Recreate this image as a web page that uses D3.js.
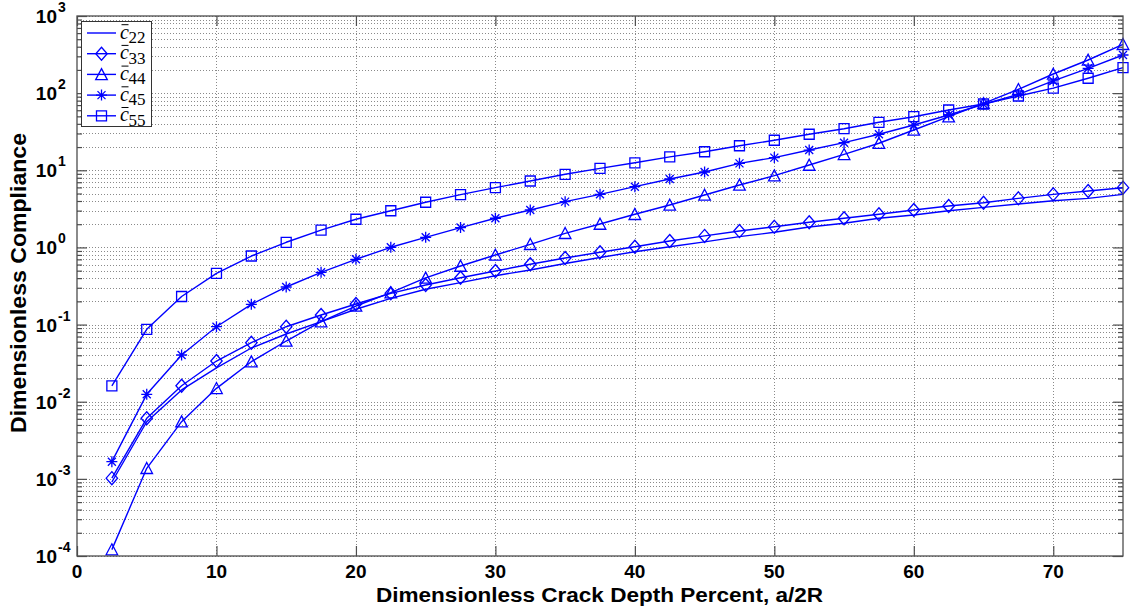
<!DOCTYPE html>
<html>
<head>
<meta charset="utf-8">
<script src="https://cdn.jsdelivr.net/npm/d3@7"></script>
<style>
  html, body { margin: 0; padding: 0; background: #fff; }
  svg { display: block; }
</style>
</head>
<body>
<svg id="chart" width="1130" height="609"></svg>
<script>
// Crack depth (percent of diameter) at which compliances were computed
const crackDepth = [2.5, 5, 7.5, 10, 12.5, 15, 17.5, 20, 22.5, 25, 27.5, 30, 32.5, 35, 37.5,
                    40, 42.5, 45, 47.5, 50, 52.5, 55, 57.5, 60, 62.5, 65, 67.5, 70, 72.5, 75];

// Dimensionless compliance terms
const c22 = [0.00091, 0.0055, 0.0142, 0.0274, 0.0497, 0.0755, 0.109, 0.158, 0.219, 0.287,
             0.35, 0.43, 0.51, 0.62, 0.74, 0.88, 1.02, 1.18, 1.38, 1.57,
             1.84, 2.06, 2.39, 2.63, 2.99, 3.31, 3.66, 4.03, 4.33, 4.88];
const c33 = [0.00102, 0.0061, 0.0161, 0.0337, 0.0582, 0.0938, 0.133, 0.185, 0.254, 0.326,
             0.405, 0.495, 0.605, 0.73, 0.865, 1.02, 1.21, 1.41, 1.63, 1.85,
             2.12, 2.39, 2.69, 3.06, 3.44, 3.80, 4.33, 4.88, 5.39, 5.95];
const c44 = [0.000121, 0.00137, 0.00551, 0.0149, 0.033, 0.0612, 0.109, 0.174, 0.259, 0.402,
             0.574, 0.798, 1.098, 1.524, 2.01, 2.69, 3.55, 4.78, 6.45, 8.51,
             11.7, 16.1, 22.4, 33.3, 49.5, 73.8, 112, 177, 269, 430];
const c45 = [0.00167, 0.01247, 0.0403, 0.0938, 0.183, 0.307, 0.476, 0.702, 1.004, 1.353,
             1.81, 2.39, 3.06, 3.92, 4.88, 6.13, 7.71, 9.5, 12.3, 14.6,
             18.3, 22.8, 29.3, 38.6, 52.1, 71.7, 96.6, 144, 210, 312];
const c55 = [0.016, 0.0869, 0.231, 0.462, 0.774, 1.166, 1.68, 2.32, 2.99, 3.85,
             4.84, 5.95, 7.26, 8.87, 10.6, 12.5, 14.9, 17.4, 20.8, 24.5,
             29.3, 34.6, 41.9, 49.5, 60.5, 72.3, 91.8, 116, 156, 214];

const seriesNames = ["22", "33", "44", "45", "55"];
const seriesMarkers = ["none", "diamond", "triangle", "star", "square"];
const seriesValues = [c22, c33, c44, c45, c55];

// Axis ticks
const xTicks = [0, 10, 20, 30, 40, 50, 60, 70];
const yExponents = [-4, -3, -2, -1, 0, 1, 2, 3];

const xLabel = "Dimensionless Crack Depth Percent, a/2R";
const yLabel = "Dimensionless Compliance";

const BLUE = "#0000ff";
const svg = d3.select("#chart");
const plotLeft = 77, plotRight = 1123, plotTop = 16, plotBottom = 556;

const x = d3.scaleLinear().domain([0, 75]).range([plotLeft, plotRight]);
const y = d3.scaleLog().domain([1e-4, 1e3]).range([plotBottom, plotTop]);

const majorY = yExponents.map(e => Math.pow(10, e));
const minorY = [];
yExponents.slice(0, -1).forEach(e => {
  for (let m = 2; m <= 9; m++) minorY.push(m * Math.pow(10, e));
});

// Dotted grid
const grid = svg.append("g").attr("stroke", "#8a8a8a").attr("stroke-width", 1)
  .attr("stroke-dasharray", "1,2").attr("fill", "none");
majorY.concat(minorY).forEach(v => {
  const yy = Math.round(y(v)) + 0.5;
  grid.append("line").attr("x1", plotLeft).attr("x2", plotRight).attr("y1", yy).attr("y2", yy);
});
xTicks.slice(1).forEach(v => {
  const xx = Math.round(x(v)) + 0.5;
  grid.append("line").attr("x1", xx).attr("x2", xx).attr("y1", plotTop).attr("y2", plotBottom);
});

// Axis ticks (pointing inward) on all four sides
const axisColor = "#4d4d4d";
function tickAxes(axisGen, transform) {
  const g = svg.append("g").attr("transform", transform).call(axisGen);
  g.select(".domain").remove();
  g.selectAll("line").attr("stroke", axisColor).attr("stroke-width", 1.2);
  g.selectAll("text").remove();
}
tickAxes(d3.axisLeft(y).tickValues(majorY).tickSize(-10), `translate(${plotLeft},0)`);
tickAxes(d3.axisLeft(y).tickValues(minorY).tickSize(-5), `translate(${plotLeft},0)`);
tickAxes(d3.axisRight(y).tickValues(majorY).tickSize(-10), `translate(${plotRight},0)`);
tickAxes(d3.axisRight(y).tickValues(minorY).tickSize(-5), `translate(${plotRight},0)`);
tickAxes(d3.axisBottom(x).tickValues(xTicks).tickSize(-10), `translate(0,${plotBottom})`);
tickAxes(d3.axisTop(x).tickValues(xTicks).tickSize(-10), `translate(0,${plotTop})`);

// Marker shapes
const markerPath = {
  diamond: "M0,-6.5L5.7,0L0,6.5L-5.7,0Z",
  triangle: "M0,-5.8L5.8,5.2L-5.8,5.2Z",
  star: "M-5.5,0H5.5M0,-5.5V5.5M-4,-4L4,4M-4,4L4,-4",
  square: "M-5,-5H5V5H-5Z"
};

// Series lines and markers
const line = d3.line().x((d, i) => x(crackDepth[i])).y(d => y(d));
const plot = svg.append("g");
seriesValues.forEach((vals, k) => {
  plot.append("path").attr("d", line(vals)).attr("fill", "none")
    .attr("stroke", BLUE).attr("stroke-width", 1.4).attr("stroke-linejoin", "round");
  const mk = seriesMarkers[k];
  if (mk !== "none") {
    plot.selectAll(null).data(vals).enter().append("path")
      .attr("transform", (d, i) => `translate(${x(crackDepth[i])},${y(d)})`)
      .attr("d", markerPath[mk]).attr("fill", "none")
      .attr("stroke", BLUE).attr("stroke-width", 1.3);
  }
});

// Axes box
svg.append("rect").attr("x", plotLeft).attr("y", plotTop).attr("width", plotRight - plotLeft)
  .attr("height", plotBottom - plotTop).attr("fill", "none")
  .attr("stroke", axisColor).attr("stroke-width", 1.3);

// Tick labels
const font = "'Liberation Sans', Arial, sans-serif";
const xl = svg.append("g").attr("font-family", font).attr("font-weight", "bold")
  .attr("font-size", 19).attr("fill", "#000").attr("text-anchor", "middle");
xTicks.forEach(v => {
  xl.append("text").attr("x", x(v)).attr("y", 578).text(v);
});
const yl = svg.append("g").attr("font-family", font).attr("font-weight", "bold").attr("fill", "#000");
yExponents.forEach(e => {
  const yy = y(Math.pow(10, e));
  yl.append("text").attr("x", 57).attr("y", yy + 7).attr("font-size", 19)
    .attr("text-anchor", "end").text("10");
  yl.append("text").attr("x", 58).attr("y", yy - 4).attr("font-size", 14)
    .attr("text-anchor", "start").text(e);
});

// Axis titles
svg.append("text").attr("x", (376 + 823) / 2).attr("y", 602)
  .attr("font-family", font).attr("font-weight", "bold").attr("font-size", 21)
  .attr("text-anchor", "middle").attr("textLength", 447).attr("lengthAdjust", "spacingAndGlyphs")
  .text(xLabel);
svg.append("text").attr("transform", "translate(26,283) rotate(-90)")
  .attr("font-family", font).attr("font-weight", "bold").attr("font-size", 22)
  .attr("text-anchor", "middle").attr("textLength", 300).attr("lengthAdjust", "spacingAndGlyphs")
  .text(yLabel);

// Legend
const lg = svg.append("g");
lg.append("rect").attr("x", 81.5).attr("y", 21.5).attr("width", 70).attr("height", 105)
  .attr("fill", "#fff").attr("stroke", "#333").attr("stroke-width", 1);
seriesNames.forEach((name, k) => {
  const cy = 33 + k * 20.7;
  lg.append("line").attr("x1", 87).attr("x2", 116).attr("y1", cy).attr("y2", cy)
    .attr("stroke", BLUE).attr("stroke-width", 1.4);
  const mk = seriesMarkers[k];
  if (mk !== "none") {
    lg.append("path").attr("transform", `translate(101.5,${cy})`).attr("d", markerPath[mk])
      .attr("fill", "none").attr("stroke", BLUE).attr("stroke-width", 1.3);
  }
  lg.append("text").attr("x", 120).attr("y", cy + 5.5)
    .attr("font-family", "'Liberation Serif', 'DejaVu Serif', serif").attr("font-style", "italic")
    .attr("font-size", 20).attr("fill", "#000").text("c");
  lg.append("line").attr("x1", 121.5).attr("x2", 128.5).attr("y1", cy - 8.3).attr("y2", cy - 8.3)
    .attr("stroke", "#000").attr("stroke-width", 1);
  lg.append("text").attr("x", 128.5).attr("y", cy + 10)
    .attr("font-family", "'Liberation Serif', 'DejaVu Serif', serif")
    .attr("font-size", 17).attr("fill", "#000").text(name);
});
</script>
</body>
</html>
